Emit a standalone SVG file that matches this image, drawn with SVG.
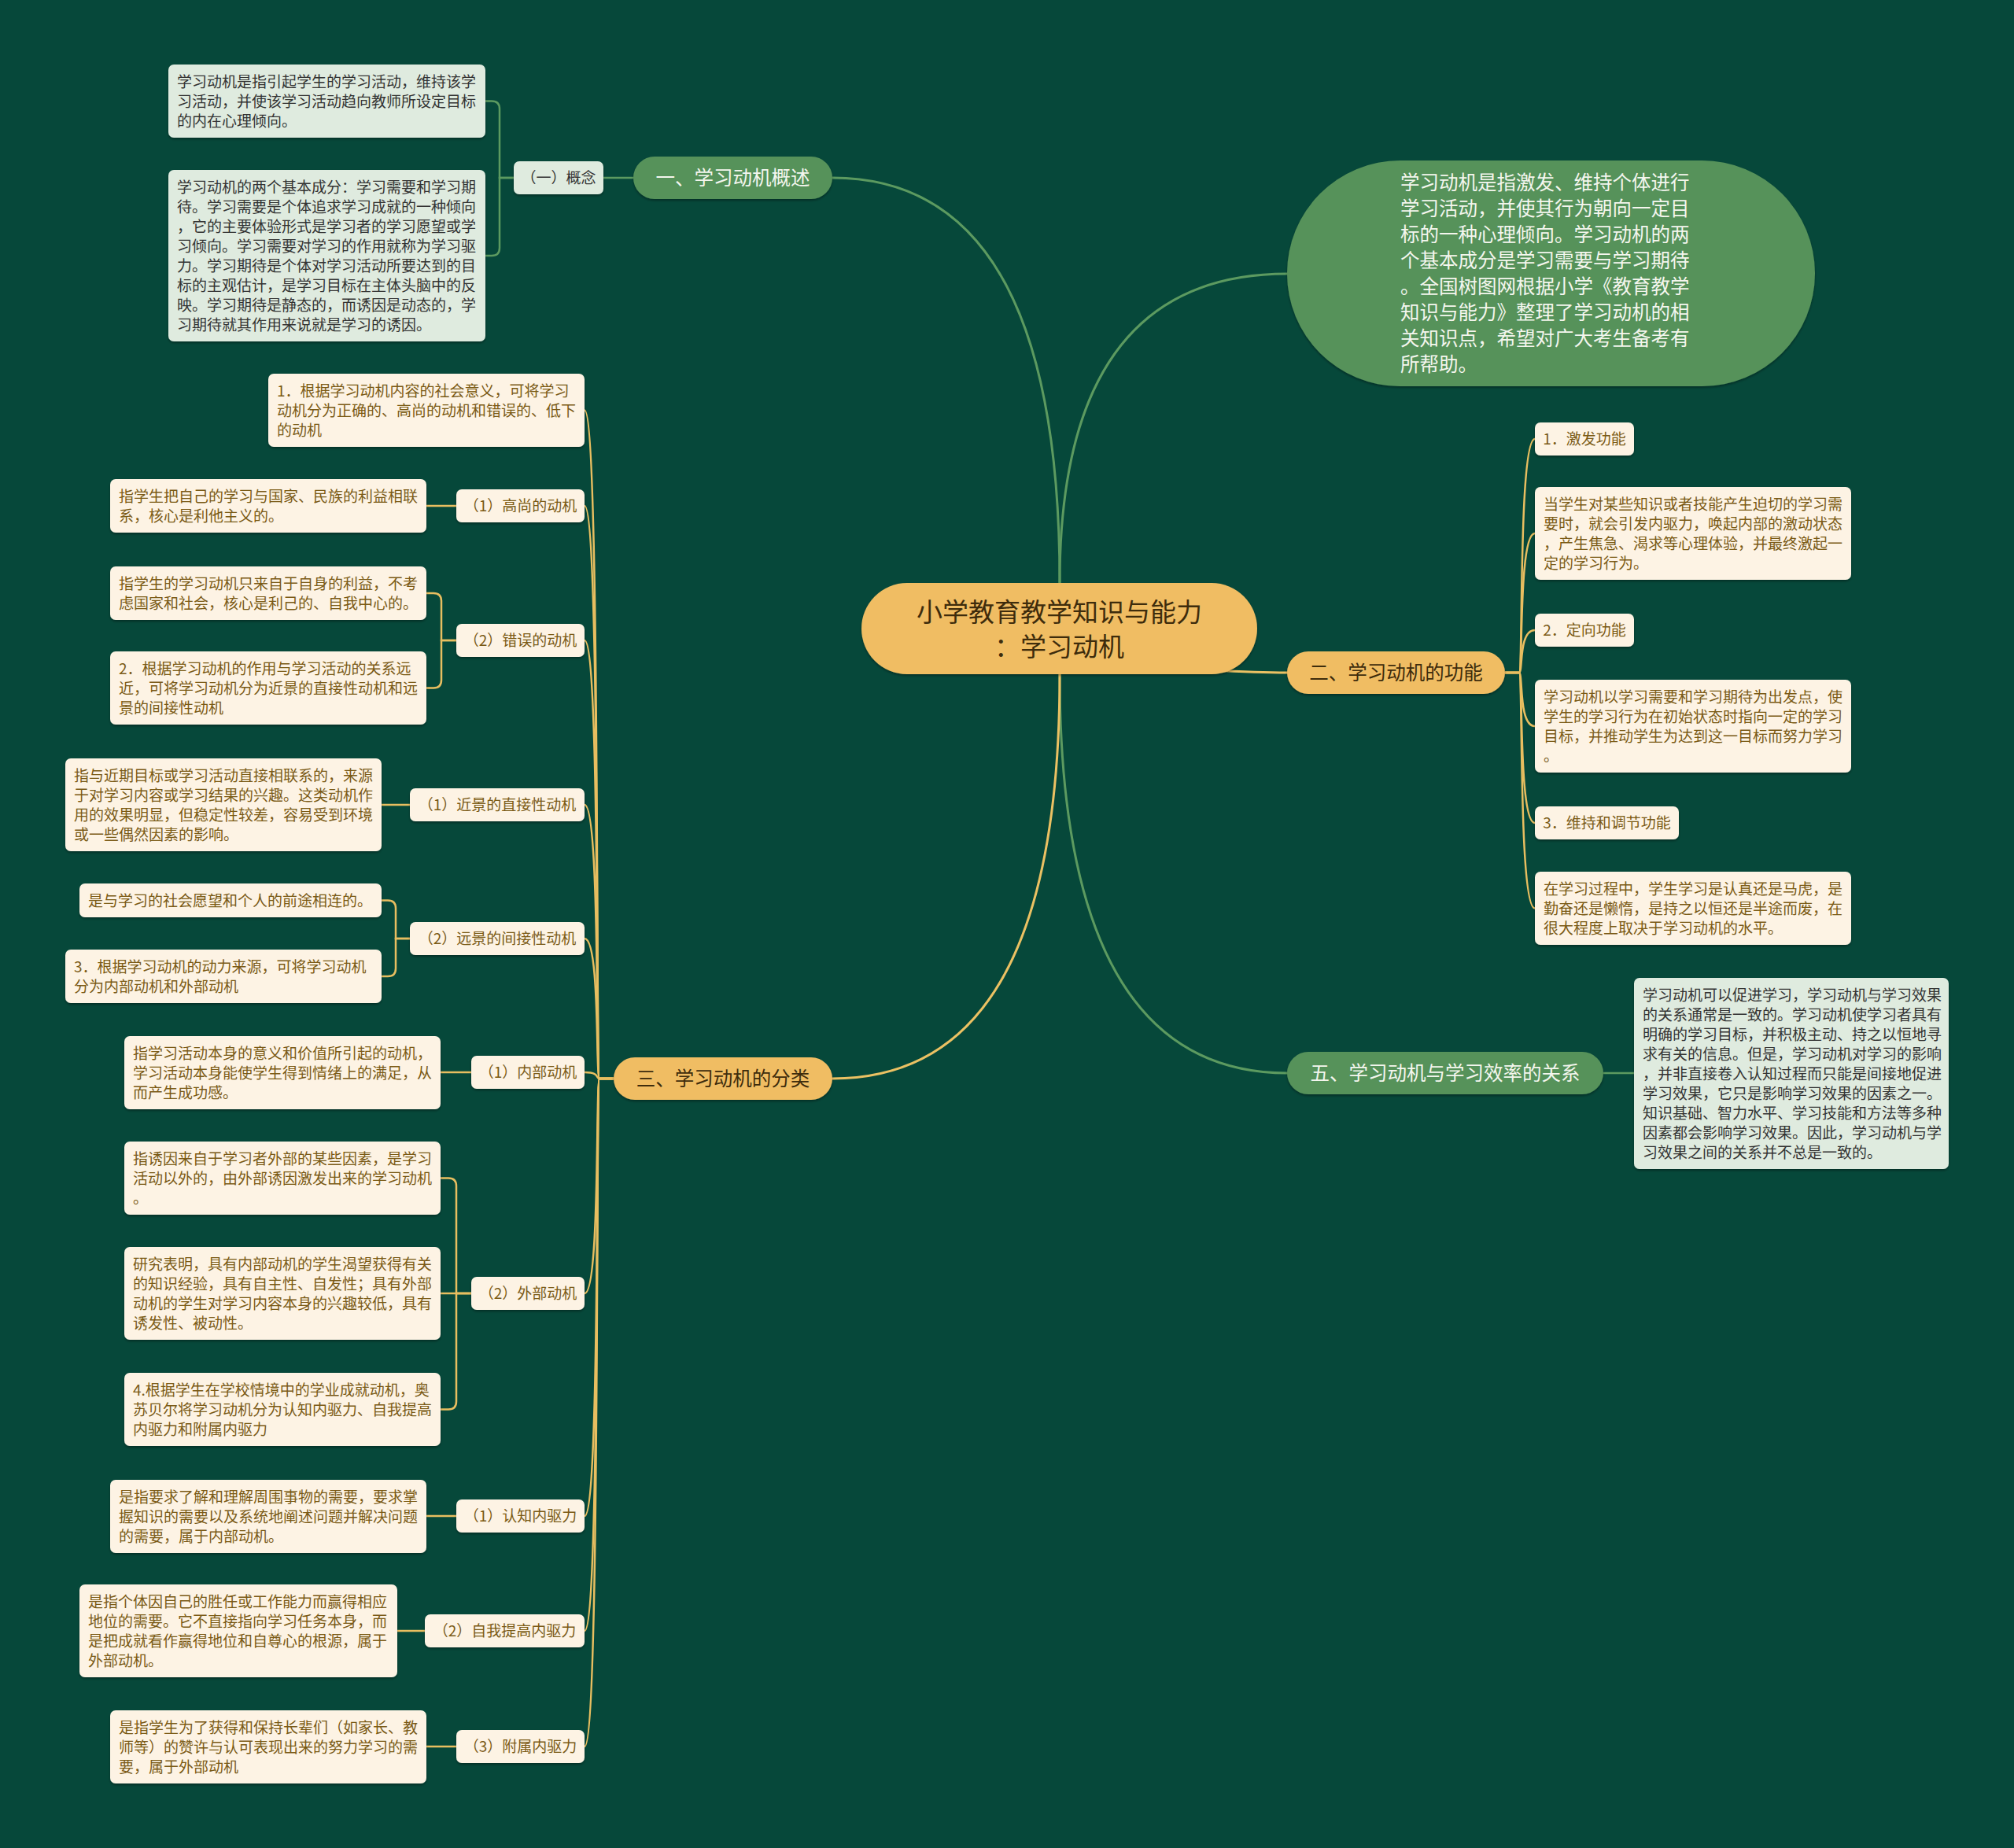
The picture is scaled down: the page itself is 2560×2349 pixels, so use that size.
<svg xmlns="http://www.w3.org/2000/svg" width="2560" height="2349" viewBox="0 0 2560 2349">
<defs>
<filter id="sh" x="-5%" y="-10%" width="110%" height="130%"><feDropShadow dx="0" dy="2" stdDeviation="1.5" flood-color="#000" flood-opacity="0.35"/></filter>
</defs>
<style>
text{font-family:"Noto Sans CJK SC","Noto Sans",sans-serif;}
.s{font-size:19px;}
.sm{font-size:19px;text-anchor:middle;}
.cream{fill:#FDF3E4;filter:url(#sh);}
.lg{fill:#DFEBDF;filter:url(#sh);}
.gr{fill:#57925A;filter:url(#sh);}
.or{fill:#F0BD63;filter:url(#sh);}
.bt{fill:#7A5A15;}
.dt{fill:#333333;}
.wt{fill:#F4F6EE;}
.ot{fill:#3E2C0C;}
.cg{fill:none;stroke:#5C9A60;stroke-width:3;stroke-linecap:round;}
.cy{fill:none;stroke:#EBC163;stroke-width:3;stroke-linecap:round;}
.cy2{fill:none;stroke:#E8BE60;stroke-width:2.5;}
.cg2{fill:none;stroke:#5C9A60;stroke-width:2.5;}
.b{font-size:24.5px;text-anchor:middle;}
</style>
<rect width="2560" height="2349" fill="#06483A"/>
<g id="connectors">
<path class="cg" d="M1347,741 Q1347,226 1058,226"/>
<path class="cg" d="M1347,741 Q1347,348 1636,348"/>
<path class="cg" d="M1347,857 Q1347,1364 1636,1364"/>
<path class="cy" d="M1347,857 Q1347,1371 1058,1371"/>
<path class="cy" d="M1540,852 Q1600,855 1636,855"/>
<path class="cg2" d="M805,226 H767"/>
<path class="cg2" d="M653,226 H635 V138.5 Q635,128.5 625,128.5 H617"/>
<path class="cg2" d="M653,226 H635 V315 Q635,325 625,325 H617"/>
<path class="cg2" d="M2038,1364 H2077"/>
<path class="cy2" d="M1913,855 H1931 C1936,855 1930,558 1951,558"/>
<path class="cy2" d="M1913,855 H1931 C1936,855 1930,678 1951,678"/>
<path class="cy2" d="M1913,855 H1931 C1936,855 1930,801 1951,801"/>
<path class="cy2" d="M1913,855 H1931 C1936,855 1930,923 1951,923"/>
<path class="cy2" d="M1913,855 H1931 C1936,855 1930,1046 1951,1046"/>
<path class="cy2" d="M1913,855 H1931 C1936,855 1930,1154.5 1951,1154.5"/>
<path class="cy2" d="M780,1371 H762 C757,1371 763,521.5 743,521.5"/>
<path class="cy2" d="M780,1371 H762 C757,1371 763,643 743,643"/>
<path class="cy2" d="M780,1371 H762 C757,1371 763,814 743,814"/>
<path class="cy2" d="M780,1371 H762 C757,1371 763,1023 743,1023"/>
<path class="cy2" d="M780,1371 H762 C757,1371 763,1193 743,1193"/>
<path class="cy2" d="M780,1371 H762 C757,1371 763,1363 743,1363"/>
<path class="cy2" d="M780,1371 H762 C757,1371 763,1644 743,1644"/>
<path class="cy2" d="M780,1371 H762 C757,1371 763,1927 743,1927"/>
<path class="cy2" d="M780,1371 H762 C757,1371 763,2073 743,2073"/>
<path class="cy2" d="M780,1371 H762 C757,1371 763,2220 743,2220"/>
<path class="cy2" d="M580,643 H542"/>
<path class="cy2" d="M580,814 H561 V764 Q561,754 551,754 H542"/>
<path class="cy2" d="M580,814 H561 V864.5 Q561,874.5 551,874.5 H542"/>
<path class="cy2" d="M521,1023 H485"/>
<path class="cy2" d="M521,1193 H503 V1154.5 Q503,1144.5 493,1144.5 H485"/>
<path class="cy2" d="M521,1193 H503 V1231 Q503,1241 493,1241 H485"/>
<path class="cy2" d="M599,1363 H560"/>
<path class="cy2" d="M599,1644 H580 V1507.5 Q580,1497.5 570,1497.5 H560"/>
<path class="cy2" d="M599,1644 H560"/>
<path class="cy2" d="M599,1644 H580 V1781.5 Q580,1791.5 570,1791.5 H560"/>
<path class="cy2" d="M580,1927 H542"/>
<path class="cy2" d="M540,2073 H505"/>
<path class="cy2" d="M580,2220 H542"/>
</g>
<g id="root">
<rect class="or" x="1095" y="741" width="503" height="116" rx="58"/>
<text class="ot" font-size="33" text-anchor="middle"><tspan x="1346.5" y="789.5">小学教育教学知识与能力</tspan><tspan x="1346.5" y="833.5">：学习动机</tspan></text>
</g>
<g id="intro">
<rect class="gr" x="1636" y="204" width="671" height="287" rx="143.5"/>
<text class="wt" font-size="24.5"><tspan x="1780" y="241">学习动机是指激发、维持个体进行</tspan><tspan x="1780" y="274">学习活动，并使其行为朝向一定目</tspan><tspan x="1780" y="307">标的一种心理倾向。学习动机的两</tspan><tspan x="1780" y="340">个基本成分是学习需要与学习期待</tspan><tspan x="1780" y="373">。全国树图网根据小学《教育教学</tspan><tspan x="1780" y="406">知识与能力》整理了学习动机的相</tspan><tspan x="1780" y="439">关知识点，希望对广大考生备考有</tspan><tspan x="1780" y="472">所帮助。</tspan></text>
</g>
<g id="b1">
<rect class="gr" x="805" y="199" width="253" height="54" rx="27"/>
<text class="b wt" x="931.5" y="235">一、学习动机概述</text>
</g>
<g id="concept">
<rect class="lg" x="653" y="205" width="114" height="42" rx="7"/>
<text class="sm dt" x="710" y="233">（一）概念</text>
</g>
<g id="concept1">
<rect class="lg" x="214" y="82" width="403" height="93" rx="7"/>
<text class="s dt"><tspan x="225" y="111">学习动机是指引起学生的学习活动，维持该学</tspan><tspan x="225" y="136">习活动，并使该学习活动趋向教师所设定目标</tspan><tspan x="225" y="161">的内在心理倾向。</tspan></text>
</g>
<g id="concept2">
<rect class="lg" x="214" y="216" width="403" height="218" rx="7"/>
<text class="s dt"><tspan x="225" y="245">学习动机的两个基本成分：学习需要和学习期</tspan><tspan x="225" y="270">待。学习需要是个体追求学习成就的一种倾向</tspan><tspan x="225" y="295">，它的主要体验形式是学习者的学习愿望或学</tspan><tspan x="225" y="320">习倾向。学习需要对学习的作用就称为学习驱</tspan><tspan x="225" y="345">力。学习期待是个体对学习活动所要达到的目</tspan><tspan x="225" y="370">标的主观估计，是学习目标在主体头脑中的反</tspan><tspan x="225" y="395">映。学习期待是静态的，而诱因是动态的，学</tspan><tspan x="225" y="420">习期待就其作用来说就是学习的诱因。</tspan></text>
</g>
<g id="b2">
<rect class="or" x="1636" y="828" width="277" height="54" rx="27"/>
<text class="b ot" x="1774.5" y="864">二、学习动机的功能</text>
</g>
<g id="f1">
<rect class="cream" x="1951" y="537" width="126" height="42" rx="7"/>
<text class="sm bt" x="2014" y="565">1．激发功能</text>
</g>
<g id="f1t">
<rect class="cream" x="1951" y="619" width="402" height="118" rx="7"/>
<text class="s bt"><tspan x="1962" y="648">当学生对某些知识或者技能产生迫切的学习需</tspan><tspan x="1962" y="673">要时，就会引发内驱力，唤起内部的激动状态</tspan><tspan x="1962" y="698">，产生焦急、渴求等心理体验，并最终激起一</tspan><tspan x="1962" y="723">定的学习行为。</tspan></text>
</g>
<g id="f2">
<rect class="cream" x="1951" y="780" width="126" height="42" rx="7"/>
<text class="sm bt" x="2014" y="808">2．定向功能</text>
</g>
<g id="f2t">
<rect class="cream" x="1951" y="864" width="402" height="118" rx="7"/>
<text class="s bt"><tspan x="1962" y="893">学习动机以学习需要和学习期待为出发点，使</tspan><tspan x="1962" y="918">学生的学习行为在初始状态时指向一定的学习</tspan><tspan x="1962" y="943">目标，并推动学生为达到这一目标而努力学习</tspan><tspan x="1962" y="968">。</tspan></text>
</g>
<g id="f3">
<rect class="cream" x="1951" y="1025" width="183" height="42" rx="7"/>
<text class="sm bt" x="2042.5" y="1053">3．维持和调节功能</text>
</g>
<g id="f3t">
<rect class="cream" x="1951" y="1108" width="402" height="93" rx="7"/>
<text class="s bt"><tspan x="1962" y="1137">在学习过程中，学生学习是认真还是马虎，是</tspan><tspan x="1962" y="1162">勤奋还是懒惰，是持之以恒还是半途而废，在</tspan><tspan x="1962" y="1187">很大程度上取决于学习动机的水平。</tspan></text>
</g>
<g id="b5">
<rect class="gr" x="1636" y="1337" width="402" height="54" rx="27"/>
<text class="b wt" x="1837" y="1373">五、学习动机与学习效率的关系</text>
</g>
<g id="b5t">
<rect class="lg" x="2077" y="1243" width="400" height="243" rx="7"/>
<text class="s dt"><tspan x="2088" y="1272">学习动机可以促进学习，学习动机与学习效果</tspan><tspan x="2088" y="1297">的关系通常是一致的。学习动机使学习者具有</tspan><tspan x="2088" y="1322">明确的学习目标，并积极主动、持之以恒地寻</tspan><tspan x="2088" y="1347">求有关的信息。但是，学习动机对学习的影响</tspan><tspan x="2088" y="1372">，并非直接卷入认知过程而只能是间接地促进</tspan><tspan x="2088" y="1397">学习效果，它只是影响学习效果的因素之一。</tspan><tspan x="2088" y="1422">知识基础、智力水平、学习技能和方法等多种</tspan><tspan x="2088" y="1447">因素都会影响学习效果。因此，学习动机与学</tspan><tspan x="2088" y="1472">习效果之间的关系并不总是一致的。</tspan></text>
</g>
<g id="b3">
<rect class="or" x="780" y="1344" width="278" height="54" rx="27"/>
<text class="b ot" x="919" y="1380">三、学习动机的分类</text>
</g>
<g id="c1">
<rect class="cream" x="341" y="475" width="402" height="93" rx="7"/>
<text class="s bt"><tspan x="352" y="504">1．根据学习动机内容的社会意义，可将学习</tspan><tspan x="352" y="529">动机分为正确的、高尚的动机和错误的、低下</tspan><tspan x="352" y="554">的动机</tspan></text>
</g>
<g id="c2">
<rect class="cream" x="580" y="622" width="163" height="42" rx="7"/>
<text class="sm bt" x="661.5" y="650">（1）高尚的动机</text>
</g>
<g id="c2t">
<rect class="cream" x="140" y="609" width="402" height="68" rx="7"/>
<text class="s bt"><tspan x="151" y="638">指学生把自己的学习与国家、民族的利益相联</tspan><tspan x="151" y="663">系，核心是利他主义的。</tspan></text>
</g>
<g id="c3">
<rect class="cream" x="580" y="793" width="163" height="42" rx="7"/>
<text class="sm bt" x="661.5" y="821">（2）错误的动机</text>
</g>
<g id="c3t1">
<rect class="cream" x="140" y="720" width="402" height="68" rx="7"/>
<text class="s bt"><tspan x="151" y="749">指学生的学习动机只来自于自身的利益，不考</tspan><tspan x="151" y="774">虑国家和社会，核心是利己的、自我中心的。</tspan></text>
</g>
<g id="c3t2">
<rect class="cream" x="140" y="828" width="402" height="93" rx="7"/>
<text class="s bt"><tspan x="151" y="857">2．根据学习动机的作用与学习活动的关系远</tspan><tspan x="151" y="882">近，可将学习动机分为近景的直接性动机和远</tspan><tspan x="151" y="907">景的间接性动机</tspan></text>
</g>
<g id="c4">
<rect class="cream" x="521" y="1002" width="222" height="42" rx="7"/>
<text class="sm bt" x="632" y="1030">（1）近景的直接性动机</text>
</g>
<g id="c4t">
<rect class="cream" x="83" y="964" width="402" height="118" rx="7"/>
<text class="s bt"><tspan x="94" y="993">指与近期目标或学习活动直接相联系的，来源</tspan><tspan x="94" y="1018">于对学习内容或学习结果的兴趣。这类动机作</tspan><tspan x="94" y="1043">用的效果明显，但稳定性较差，容易受到环境</tspan><tspan x="94" y="1068">或一些偶然因素的影响。</tspan></text>
</g>
<g id="c5">
<rect class="cream" x="521" y="1172" width="222" height="42" rx="7"/>
<text class="sm bt" x="632" y="1200">（2）远景的间接性动机</text>
</g>
<g id="c5t1">
<rect class="cream" x="101" y="1123" width="384" height="43" rx="7"/>
<text class="s bt" x="112" y="1152">是与学习的社会愿望和个人的前途相连的。</text>
</g>
<g id="c5t2">
<rect class="cream" x="83" y="1207" width="402" height="68" rx="7"/>
<text class="s bt"><tspan x="94" y="1236">3．根据学习动机的动力来源，可将学习动机</tspan><tspan x="94" y="1261">分为内部动机和外部动机</tspan></text>
</g>
<g id="c6">
<rect class="cream" x="599" y="1342" width="144" height="42" rx="7"/>
<text class="sm bt" x="671" y="1370">（1）内部动机</text>
</g>
<g id="c6t">
<rect class="cream" x="158" y="1317" width="402" height="93" rx="7"/>
<text class="s bt"><tspan x="169" y="1346">指学习活动本身的意义和价值所引起的动机，</tspan><tspan x="169" y="1371">学习活动本身能使学生得到情绪上的满足，从</tspan><tspan x="169" y="1396">而产生成功感。</tspan></text>
</g>
<g id="c7">
<rect class="cream" x="599" y="1623" width="144" height="42" rx="7"/>
<text class="sm bt" x="671" y="1651">（2）外部动机</text>
</g>
<g id="c7t1">
<rect class="cream" x="158" y="1451" width="402" height="93" rx="7"/>
<text class="s bt"><tspan x="169" y="1480">指诱因来自于学习者外部的某些因素，是学习</tspan><tspan x="169" y="1505">活动以外的，由外部诱因激发出来的学习动机</tspan><tspan x="169" y="1530">。</tspan></text>
</g>
<g id="c7t2">
<rect class="cream" x="158" y="1585" width="402" height="118" rx="7"/>
<text class="s bt"><tspan x="169" y="1614">研究表明，具有内部动机的学生渴望获得有关</tspan><tspan x="169" y="1639">的知识经验，具有自主性、自发性；具有外部</tspan><tspan x="169" y="1664">动机的学生对学习内容本身的兴趣较低，具有</tspan><tspan x="169" y="1689">诱发性、被动性。</tspan></text>
</g>
<g id="c7t3">
<rect class="cream" x="158" y="1745" width="402" height="93" rx="7"/>
<text class="s bt"><tspan x="169" y="1774">4.根据学生在学校情境中的学业成就动机，奥</tspan><tspan x="169" y="1799">苏贝尔将学习动机分为认知内驱力、自我提高</tspan><tspan x="169" y="1824">内驱力和附属内驱力</tspan></text>
</g>
<g id="c8">
<rect class="cream" x="580" y="1906" width="163" height="42" rx="7"/>
<text class="sm bt" x="661.5" y="1934">（1）认知内驱力</text>
</g>
<g id="c8t">
<rect class="cream" x="140" y="1881" width="402" height="93" rx="7"/>
<text class="s bt"><tspan x="151" y="1910">是指要求了解和理解周围事物的需要，要求掌</tspan><tspan x="151" y="1935">握知识的需要以及系统地阐述问题并解决问题</tspan><tspan x="151" y="1960">的需要，属于内部动机。</tspan></text>
</g>
<g id="c9">
<rect class="cream" x="540" y="2052" width="203" height="42" rx="7"/>
<text class="sm bt" x="641.5" y="2080">（2）自我提高内驱力</text>
</g>
<g id="c9t">
<rect class="cream" x="101" y="2014" width="404" height="118" rx="7"/>
<text class="s bt"><tspan x="112" y="2043">是指个体因自己的胜任或工作能力而赢得相应</tspan><tspan x="112" y="2068">地位的需要。它不直接指向学习任务本身，而</tspan><tspan x="112" y="2093">是把成就看作赢得地位和自尊心的根源，属于</tspan><tspan x="112" y="2118">外部动机。</tspan></text>
</g>
<g id="c10">
<rect class="cream" x="580" y="2199" width="163" height="42" rx="7"/>
<text class="sm bt" x="661.5" y="2227">（3）附属内驱力</text>
</g>
<g id="c10t">
<rect class="cream" x="140" y="2174" width="402" height="93" rx="7"/>
<text class="s bt"><tspan x="151" y="2203">是指学生为了获得和保持长辈们（如家长、教</tspan><tspan x="151" y="2228">师等）的赞许与认可表现出来的努力学习的需</tspan><tspan x="151" y="2253">要，属于外部动机</tspan></text>
</g>
</svg>
